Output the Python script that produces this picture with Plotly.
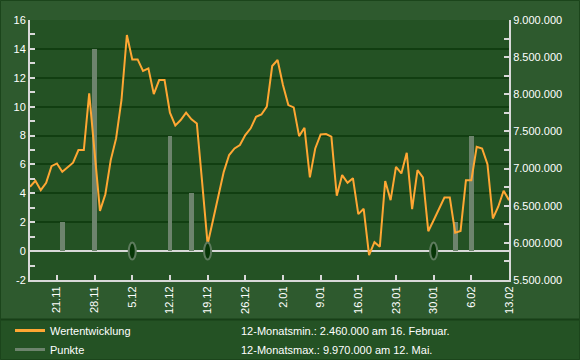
import pandas as pd
import plotly.graph_objects as go

# ---------------- data ----------------
start_date = "2010-11-16"
wert = [6754, 6836, 6709, 6809, 7032, 7069, 6956, 7024, 7079, 7250,
        7250, 8012, 7231, 6431, 6655, 7114, 7406, 7923, 8798, 8469,
        8469, 8314, 8349, 8003, 8191, 8191, 7752, 7581, 7653, 7752,
        7662, 7608, 6803, 5982, 6305, 6620, 6956, 7182, 7271, 7316,
        7450, 7542, 7697, 7728, 7833, 8380, 8461, 8125, 7855, 7824,
        7437, 7549, 6881, 7271, 7460, 7464, 7429, 6634, 6912, 6809,
        6871, 6387, 6459, 5834, 6009, 5947, 6832, 6575, 7024, 6935,
        7213, 6455, 6980, 6881, 6157, 6305, 6462, 6610, 6610, 6136,
        6161, 6844, 6844, 7293, 7271, 7059, 6328, 6486, 6702, 6575]
wert = [v * 1000 for v in wert]
dates = pd.date_range(start_date, periods=len(wert), freq="D")

punkte_dates = ["2010-11-22", "2010-11-28", "2010-12-12", "2010-12-16",
                "2011-02-03", "2011-02-06"]
punkte_vals = [2, 14, 8, 4, 2, 8]
null_dates = ["2010-12-05", "2010-12-19", "2011-01-30"]

left_ticks = [-2, 0, 2, 4, 6, 8, 10, 12, 14, 16]
left_text = ["-2", "0", "2", "4", "6", "8", "10", "12", "14", "16"]

name_line = "Wertentwicklung"
name_bar = "Punkte"
min_text = "12-Monatsmin.: 2.460.000 am 16. Februar."
max_text = "12-Monatsmax.: 9.970.000 am 12. Mai."

# ---------------- style ----------------
W, H = 580, 360
L, R, T, B = 30, 71, 20, 80
PAPER = "#2e5a2e"
PLOT = "#245224"
GRID = "#113e11"
AXIS = "#d9d9d9"
ORANGE = "#ffa733"
BARC = "#6d846d"
FONT = "Arial, Liberation Sans, sans-serif"

def px_x(px):
    return (px - L) / (W - L - R)

def px_y(py):
    return (H - B - py) / (H - T - B)

fig = go.Figure()
fig.add_trace(go.Bar(x=punkte_dates, y=punkte_vals, marker_color=BARC,
                     marker_line_width=0, width=0.9 * 86400000,
                     showlegend=False, yaxis="y"))
fig.add_trace(go.Scatter(x=dates, y=wert, mode="lines",
                         line=dict(color=ORANGE, width=2),
                         showlegend=False, yaxis="y2", cliponaxis=True))
# legend proxies
fig.add_trace(go.Scatter(x=[None], y=[None], mode="lines", name=name_line,
                         line=dict(color=ORANGE, width=3), yaxis="y2"))
fig.add_trace(go.Scatter(x=[None], y=[None], mode="lines", name=name_bar,
                         line=dict(color=BARC, width=3), yaxis="y2"))

shapes = []
shapes.append(dict(type="rect", xref="paper", yref="paper",
                   x0=px_x(1), x1=px_x(579), y0=px_y(359), y1=px_y(319.5),
                   fillcolor=PLOT, line=dict(width=0), layer="below"))
shapes.append(dict(type="line", xref="paper", yref="paper",
                   x0=px_x(1), x1=px_x(579), y0=px_y(319.5), y1=px_y(319.5),
                   line=dict(color="#173f17", width=2)))
shapes.append(dict(type="rect", xref="paper", yref="paper",
                   x0=px_x(0.5), x1=px_x(579.5), y0=px_y(359.5), y1=px_y(0.5),
                   line=dict(color="#1b451b", width=1), layer="below"))
for d in null_dates:
    shapes.append(dict(type="circle", xref="x", yref="y",
                       xsizemode="pixel", ysizemode="pixel",
                       xanchor=d, yanchor=0, x0=-3.5, x1=3.5, y0=-8.5, y1=8.5,
                       fillcolor="#073607", line=dict(color="#5e7b5e", width=2),
                       layer="above"))

annotations = [
    dict(text=min_text, xref="paper", yref="paper", x=px_x(239), y=px_y(331),
         xanchor="left", yanchor="middle", showarrow=False,
         font=dict(size=11, color="white", family=FONT)),
    dict(text=max_text, xref="paper", yref="paper", x=px_x(239), y=px_y(350),
         xanchor="left", yanchor="middle", showarrow=False,
         font=dict(size=11, color="white", family=FONT)),
]

fig.update_layout(
    width=W, height=H,
    margin=dict(l=L, r=R, t=T, b=B, pad=0, autoexpand=False),
    paper_bgcolor=PAPER, plot_bgcolor=PLOT,
    font=dict(family=FONT, size=11, color="white"),
    separators=",.",
    bargap=0,
    shapes=shapes, annotations=annotations,
    legend=dict(xref="container", yref="container",
                x=10 / W, y=1 - 316 / H, xanchor="left", yanchor="top",
                bgcolor="rgba(0,0,0,0)", itemwidth=30,
                font=dict(size=11, color="white", family=FONT),
                tracegroupgap=0),
    xaxis=dict(type="date", range=[dates[0], dates[-1]],
               tick0="2010-11-21", dtick=7 * 86400000, tickformat="%-d.%m",
               tickangle=-90, ticks="inside", ticklen=5, tickwidth=2,
               tickcolor=AXIS, showline=True, linecolor=AXIS, linewidth=2,
               showgrid=False, zeroline=False,
               tickfont=dict(size=11, color="white")),
    yaxis=dict(range=[-2, 16], tickmode="array", tickvals=left_ticks,
               ticktext=left_text, ticks="inside", ticklen=5, tickwidth=2,
               tickcolor=AXIS, showline=True, linecolor=AXIS, linewidth=2,
               showgrid=True, gridcolor=GRID, gridwidth=2,
               zeroline=True, zerolinecolor=AXIS, zerolinewidth=2,
               minor=dict(tickmode="linear", tick0=-1, dtick=2,
                          ticks="inside", ticklen=5, tickwidth=2,
                          tickcolor=AXIS, showgrid=False),
               tickfont=dict(size=11, color="white")),
    yaxis2=dict(range=[5500000, 9000000], overlaying="y", side="right",
                dtick=500000, tick0=5500000, tickformat=",.0f",
                ticks="inside", ticklen=5, tickwidth=2, tickcolor=AXIS,
                showline=True, linecolor=AXIS, linewidth=2,
                showgrid=False, zeroline=False,
                minor=dict(tickmode="linear", tick0=5750000, dtick=500000,
                           ticks="inside", ticklen=5, tickwidth=2,
                           tickcolor=AXIS, showgrid=False),
                tickfont=dict(size=11, color="white")),
)

fig.write_html("out.html",
               config={"displayModeBar": False},
               post_script="document.body.style.margin='0';"
                           "document.body.style.overflow='hidden';")
